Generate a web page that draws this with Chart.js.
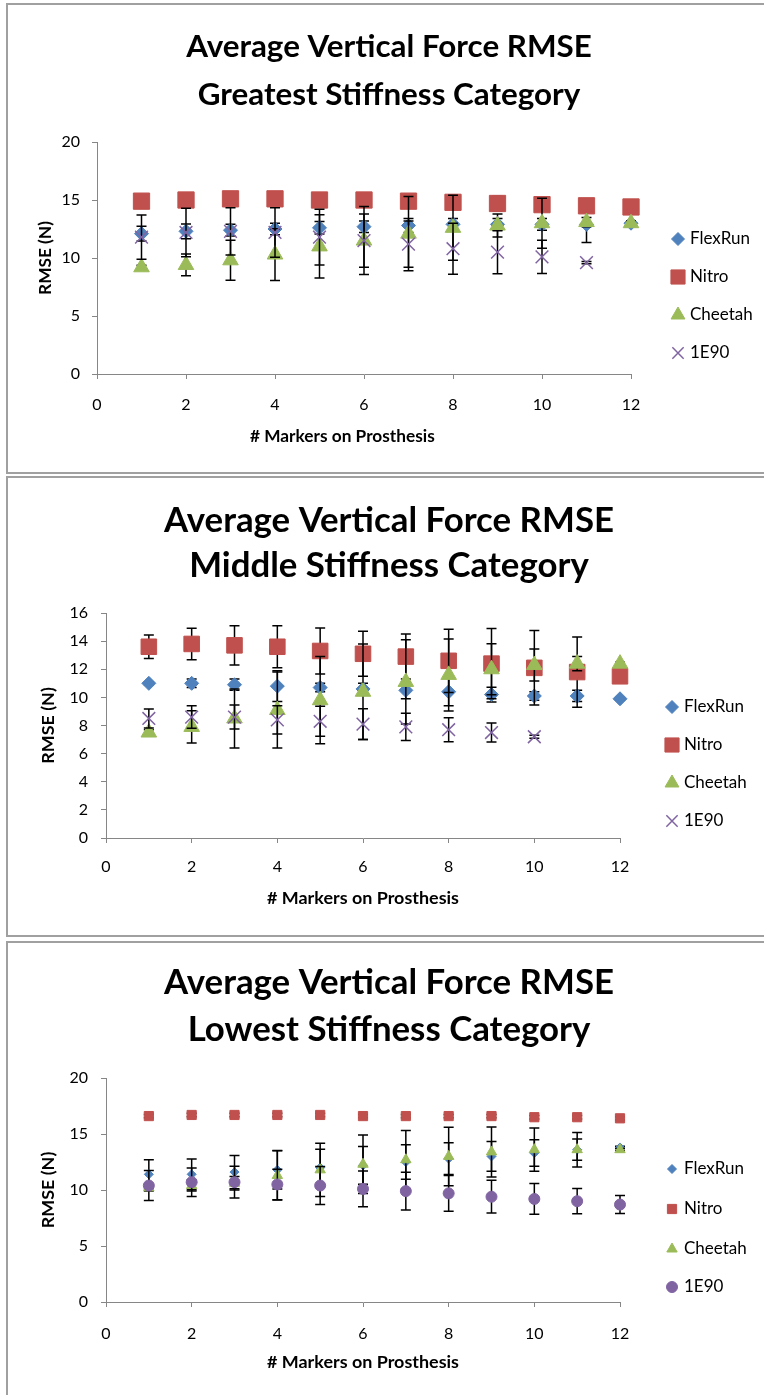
<!DOCTYPE html>
<html>
<head>
<meta charset="utf-8">
<script src="https://cdn.jsdelivr.net/npm/chart.js@4.4.1/dist/chart.umd.min.js"></script>
<style>
  html, body { margin: 0; padding: 0; background: #fff; width: 764px; height: 1395px; overflow: hidden; }
  .frame { position: absolute; left: 6px; width: 800px; border: 2px solid #a0a0a0; box-sizing: border-box; }
  canvas { position: absolute; left: 0; }
</style>
</head>
<body>
<div class="frame" style="top:3px;height:471px"></div>
<div class="frame" style="top:476px;height:461px"></div>
<div class="frame" style="top:941px;height:470px"></div>
<canvas id="c1" width="778" height="474" style="top:0"></canvas>
<canvas id="c2" width="778" height="464" style="top:474px"></canvas>
<canvas id="c3" width="778" height="457" style="top:938px"></canvas>
<script>
// x values and series names
const markers = [1, 2, 3, 4, 5, 6, 7, 8, 9, 10, 11, 12];
const seriesNames = ['FlexRun', 'Nitro', 'Cheetah', '1E90'];

// greatest stiffness
const greatestFlexRun = [12.1, 12.3, 12.4, 12.5, 12.6, 12.7, 12.8, 12.9, 12.9, 12.9, 12.9, 13.0];
const greatestNitro   = [14.9, 15.0, 15.1, 15.1, 15.0, 15.0, 14.9, 14.8, 14.7, 14.6, 14.5, 14.4];
const greatestCheetah = [9.2, 9.4, 9.8, 10.3, 11.0, 11.5, 12.1, 12.6, 12.8, 13.0, 13.1, 13.0];
const greatest1E90    = [11.8, 12.2, 12.3, 12.2, 11.8, 11.5, 11.2, 10.8, 10.5, 10.1, 9.6, null];
const greatestFlexRunSd = [0.63, 0.63, 0.5, 0.49, 0.54, 0.5, 0.6, 0.5, 0.5, 0.5, 1.57, 0.2];
const greatestNitroSd   = [0.4, 0.4, 0.4, 0.4, 0.4, 0.4, 0.5, 0.5, 0.63, 0.5, 0.4, 0.3];
const greatestCheetahSd = [0.17, 0.94, 1.72, 2.23, 2.72, 2.93, 3.2, 2.8, 1.0, 2.15, 0.4, 0.2];
const greatest1E90Sd    = [1.9, 2.09, 2.04, 2.13, 2.4, 2.3, 2.0, 2.2, 1.85, 1.43, 0.1, null];

// middle stiffness
const middleFlexRun = [11.0, 11.0, 10.9, 10.8, 10.7, 10.6, 10.5, 10.4, 10.2, 10.1, 10.1, 9.9];
const middleNitro   = [13.6, 13.8, 13.7, 13.6, 13.3, 13.1, 12.9, 12.6, 12.4, 12.1, 11.8, 11.5];
const middleCheetah = [7.5, 7.9, 8.5, 9.1, 9.8, 10.4, 11.1, 11.6, 12.0, 12.3, 12.4, 12.4];
const middle1E90    = [8.5, 8.6, 8.6, 8.4, 8.3, 8.1, 7.9, 7.7, 7.5, 7.2, null, null];
const middleFlexRunSd = [0.1, 0.3, 0.4, 1.1, 0.3, 0.4, 0.6, 1.0, 0.52, 0.3, 0.4, 0.1];
const middleNitroSd   = [0.83, 1.12, 1.4, 1.5, 1.64, 1.6, 1.6, 2.25, 2.49, 2.65, 2.5, 0.2];
const middleCheetahSd = [0.2, 1.15, 2.1, 2.7, 3.1, 3.4, 3.0, 2.56, 1.82, 1.14, 0.5, 0.1];
const middle1E90Sd    = [0.67, 0.8, 0.85, 1.0, 1.07, 1.1, 0.97, 0.86, 0.67, 0.1, null, null];

// lowest stiffness
const lowestFlexRun = [11.4, 11.4, 11.6, 11.8, 12.0, 12.2, 12.5, 12.8, 13.0, 13.3, 13.6, 13.8];
const lowestNitro   = [16.6, 16.7, 16.7, 16.7, 16.7, 16.6, 16.6, 16.6, 16.6, 16.5, 16.5, 16.4];
const lowestCheetah = [10.2, 10.4, 10.6, 11.3, 11.8, 12.3, 12.7, 13.0, 13.4, 13.6, 13.6, 13.6];
const lowest1E90    = [10.4, 10.7, 10.7, 10.5, 10.4, 10.1, 9.9, 9.7, 9.4, 9.2, 9.0, 8.7];
const lowestFlexRunSd = [1.31, 1.37, 1.49, 1.72, 1.63, 1.69, 1.55, 1.42, 1.33, 1.19, 0.95, 0.1];
const lowestNitroSd   = [0.15, 0.15, 0.15, 0.15, 0.15, 0.15, 0.15, 0.15, 0.15, 0.15, 0.15, 0.15];
const lowestCheetahSd = [0.3, 0.5, 0.6, 2.2, 2.37, 2.62, 2.61, 2.61, 2.23, 1.93, 1.54, 0.1];
const lowest1E90Sd    = [1.34, 1.27, 1.42, 1.36, 1.7, 1.6, 1.69, 1.6, 1.46, 1.37, 1.13, 0.8];

const colors = ['#4F81BD', '#C0504D', '#9BBB59', '#8064A2'];
const family = 'Lato, "Open Sans", sans-serif';

// font size that makes text a given width
function fitSize(text, weight, width) {
  const c = document.createElement('canvas').getContext('2d');
  c.font = weight + ' 100px ' + family;
  return 100 * width / c.measureText(text).width;
}

// black error bars, drawn just under each series' own markers
const errorBars = {
  id: 'errorBars',
  beforeDatasetDraw(chart, args) {
    const ds = chart.data.datasets[args.index];
    if (!ds.errors) return;
    const { ctx, scales: { x, y } } = chart;
    ctx.save();
    ctx.strokeStyle = '#000';
    ctx.lineWidth = 1.5;
    ds.data.forEach((p, i) => {
      const e = ds.errors[i];
      if (p.y == null || e == null) return;
      const px = x.getPixelForValue(p.x);
      const top = y.getPixelForValue(p.y + e);
      const bot = y.getPixelForValue(p.y - e);
      ctx.beginPath();
      ctx.moveTo(px, top); ctx.lineTo(px, bot);
      ctx.moveTo(px - 5, top); ctx.lineTo(px + 5, top);
      ctx.moveTo(px - 5, bot); ctx.lineTo(px + 5, bot);
      ctx.stroke();
    });
    ctx.restore();
  }
};

// legend on the right, one entry per series
const sideLegend = {
  id: 'sideLegend',
  afterDraw(chart, args, opts) {
    const ctx = chart.ctx;
    chart.data.datasets.forEach((ds, i) => {
      const y = opts.y[i];
      ctx.save();
      ctx.fillStyle = ds.pointBackgroundColor;
      ctx.strokeStyle = ds.pointBorderColor;
      ctx.lineWidth = ds.pointBorderWidth;
      Chart.helpers.drawPoint(ctx, { pointStyle: ds.pointStyle, radius: opts.radii[i], rotation: 0, borderWidth: ds.pointBorderWidth }, opts.x, y);
      ctx.restore();
      ctx.save();
      ctx.fillStyle = '#000';
      ctx.font = opts.fontSize + 'px ' + family;
      ctx.textBaseline = 'middle';
      ctx.fillText(ds.label, opts.x + 12, y);
      ctx.restore();
    });
  }
};

function buildChart(id, p) {
  const canvas = document.getElementById(id);
  const W = canvas.width, H = canvas.height;
  const titleSize = fitSize(p.title[0], 'bold', p.titleWidth);
  const axisSize = fitSize('# Markers on Prosthesis', 'bold', p.xTitleWidth);
  // trailing spaces push the centred axis title to the left where needed
  const xTitle = '# Markers on Prosthesis' + '\u2002'.repeat(p.xTitleShift || 0);

  const datasets = p.values.map((vals, i) => ({
    label: seriesNames[i],
    data: markers.map((m, k) => ({ x: m, y: vals[k] })),
    errors: p.sds[i],
    order: 4 - i,
    clip: false,
    pointStyle: p.styles[i],
    pointRadius: p.radii[i],
    pointHoverRadius: p.radii[i],
    pointBackgroundColor: colors[i],
    pointBorderColor: colors[i],
    pointBorderWidth: p.styles[i] === 'crossRot' ? 1.5 : 1,
    showLine: false
  }));

  return new Chart(canvas, {
    type: 'scatter',
    data: { datasets },
    options: {
      responsive: false,
      animation: false,
      layout: { padding: 0 },
      plugins: {
        legend: { display: false },
        tooltip: { enabled: false },
        title: {
          display: true,
          text: p.title,
          color: '#000',
          font: { family, weight: 'bold', size: titleSize, lineHeight: p.titleLH + 'px' },
          padding: p.titlePad
        },
        sideLegend: { x: p.legendX, y: p.legendY, radii: p.legendRadii, fontSize: 17 }
      },
      scales: {
        x: {
          type: 'linear', min: 0, max: 12,
          ticks: { stepSize: 2, color: '#000', padding: p.xTickPad, font: { family, size: 16 } },
          grid: { display: true, drawOnChartArea: false, drawTicks: true, tickLength: 5, color: '#868686' },
          border: { color: '#868686', width: 1 },
          title: { display: true, text: xTitle, color: '#000',
                   font: { family, weight: 'bold', size: axisSize, lineHeight: '20px' },
                   padding: { top: 0, bottom: p.xTitlePad } },
          afterFit: s => { s.height = H - p.bottom; }
        },
        y: {
          type: 'linear', min: 0, max: p.yMax,
          ticks: { stepSize: p.yStep, color: '#000', padding: p.yTickPad, font: { family, size: 16 } },
          grid: { display: true, drawOnChartArea: false, drawTicks: true, tickLength: 5, color: '#868686' },
          border: { color: '#868686', width: 1 },
          title: { display: true, text: 'RMSE (N)', color: '#000',
                   font: { family, weight: 'bold', size: axisSize, lineHeight: '20px' },
                   padding: { top: p.yTitlePad, bottom: 0 } },
          afterFit: s => { s.width = p.left; }
        },
        // empty box that keeps room for the legend
        side: {
          type: 'linear', position: 'right', display: true,
          grid: { display: false }, border: { display: false }, ticks: { display: false },
          afterFit: s => { s.width = W - p.right; }
        }
      }
    },
    plugins: [errorBars, sideLegend]
  });
}

buildChart('c1', {
  title: ['Average Vertical Force RMSE', 'Greatest Stiffness Category'],
  titleWidth: 406, titleLH: 48, titlePad: { top: 23, bottom: 23 },
  xTitleWidth: 185, xTitleShift: 5,
  left: 97, right: 631, bottom: 374,
  xTickPad: 16, xTitlePad: 28, yTickPad: 12, yTitlePad: 35,
  yMax: 20, yStep: 5,
  values: [greatestFlexRun, greatestNitro, greatestCheetah, greatest1E90],
  sds: [greatestFlexRunSd, greatestNitroSd, greatestCheetahSd, greatest1E90Sd],
  styles: ['rectRot', 'rect', 'triangle', 'crossRot'],
  radii: [7, 11.5, 9, 9],
  legendRadii: [6.5, 10, 8, 8],
  legendX: 678, legendY: [239, 277, 315, 353]
});

buildChart('c2', {
  title: ['Average Vertical Force RMSE', 'Middle Stiffness Category'],
  titleWidth: 450, titleLH: 45, titlePad: { top: 24.5, bottom: 24.5 },
  xTitleWidth: 192,
  left: 106, right: 620, bottom: 364,
  xTickPad: 14, xTitlePad: 30, yTickPad: 13, yTitlePad: 38,
  yMax: 16, yStep: 2,
  values: [middleFlexRun, middleNitro, middleCheetah, middle1E90],
  sds: [middleFlexRunSd, middleNitroSd, middleCheetahSd, middle1E90Sd],
  styles: ['rectRot', 'rect', 'triangle', 'crossRot'],
  radii: [7, 11, 9, 9],
  legendRadii: [6.5, 10, 8, 8],
  legendX: 672, legendY: [233, 271, 309, 347]
});

buildChart('c3', {
  title: ['Average Vertical Force RMSE', 'Lowest Stiffness Category'],
  titleWidth: 450, titleLH: 47, titlePad: { top: 21.5, bottom: 24.5 },
  xTitleWidth: 192,
  left: 106, right: 620, bottom: 364,
  xTickPad: 17, xTitlePad: 23, yTickPad: 13, yTitlePad: 38,
  yMax: 20, yStep: 5,
  values: [lowestFlexRun, lowestNitro, lowestCheetah, lowest1E90],
  sds: [lowestFlexRunSd, lowestNitroSd, lowestCheetahSd, lowest1E90Sd],
  styles: ['rectRot', 'rect', 'triangle', 'circle'],
  radii: [4.5, 6.5, 6, 5.5],
  legendRadii: [4.5, 6.5, 6, 5.5],
  legendX: 672, legendY: [231, 271, 311, 349]
});
</script>
</body>
</html>
